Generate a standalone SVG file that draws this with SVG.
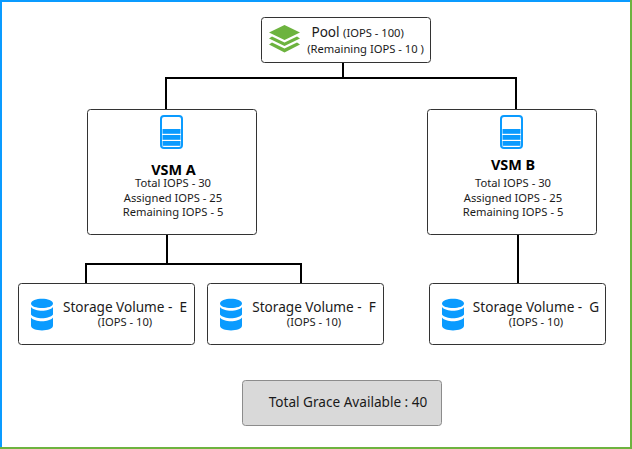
<svg xmlns="http://www.w3.org/2000/svg" width="632" height="449" viewBox="0 0 632 449">
<style>
text{font-family:"Noto Sans","Open Sans","Liberation Sans",sans-serif;fill:#1a1a1a;text-anchor:middle}
.box{fill:#fff;stroke:#333;stroke-width:1}
.grace{fill:#d9d9d9;stroke:#8c8c8c;stroke-width:1}
.c{fill:none;stroke:#000;stroke-width:2}
.s{font-size:11.2px}
.m{font-size:13.6px}
.b{font-size:14.4px;font-weight:700;fill:#000}
.blue{fill:#0a9bff}
.green{fill:#6db33f}
</style>
<defs>
<g id="db"><path class="blue" d="M0 5C0 -1.500 22 -1.500 22 5C22 11 0 11 0 5Z"/><path class="blue" d="M0 8.500C4 13.500 18 13.500 22 8.500V16C18 21 4 21 0 16Z"/><path class="blue" d="M0 19C4 24 18 24 22 19V27C22 33.500 0 33.500 0 27Z"/></g>
<g id="vsm"><rect x="1" y="1" width="21" height="32" rx="3" fill="#fff" stroke="#0a9bff" stroke-width="2"/><rect class="blue" x="2.500" y="14" width="18" height="4.800"/><rect class="blue" x="2.500" y="20" width="18" height="4.800"/><rect class="blue" x="2.500" y="26" width="18" height="4.800"/></g>
</defs>
<rect width="632" height="2" class="blue"/><rect width="2" height="449" class="blue"/>
<rect x="630" width="2" height="449" class="green"/><rect y="447" width="632" height="2" class="green"/>
<g id="connectors">
<path class="c" d="M343 62V78M166 109V78H516V109"/>
<path class="c" d="M167 234V264M86 283V264H301V283"/>
<path class="c" d="M518 234V283"/>
</g>
<g id="pool">
<rect class="box" x="261.500" y="17.500" width="169" height="45" rx="3"/>
<path class="green" d="M284.500 25L300 32.500L284.500 40L269 32.500Z"/>
<path class="green" d="M272 36.500L284.500 42.500L297 36.500L300 38.500L284.500 46L269 38.500Z"/>
<path class="green" d="M272 42.500L284.500 48.500L297 42.500L300 44.500L284.500 52.500L269 44.500Z"/>
<text x="325.500" y="37" class="m">Pool</text><text x="373.500" y="37" class="s">(IOPS - 100)</text>
<text x="365.500" y="53" class="s">(Remaining IOPS - 10 )</text>
</g>
<g id="vsm-a">
<rect class="box" x="87.500" y="109.500" width="169" height="125" rx="3"/>
<use href="#vsm" x="160" y="115"/>
<text x="173.500" y="175" class="b">VSM A</text>
<text x="173" y="187" class="s">Total IOPS - 30</text>
<text x="173" y="202" class="s">Assigned IOPS - 25</text>
<text x="173" y="216" class="s">Remaining IOPS - 5</text>
</g>
<g id="vsm-b">
<rect class="box" x="427.500" y="109.500" width="169" height="125" rx="3"/>
<use href="#vsm" x="500" y="115"/>
<text x="513" y="170" class="b">VSM B</text>
<text x="513" y="187" class="s">Total IOPS - 30</text>
<text x="513" y="202" class="s">Assigned IOPS - 25</text>
<text x="513" y="216" class="s">Remaining IOPS - 5</text>
</g>
<g id="volume-e">
<rect class="box" x="18.500" y="283.500" width="176" height="61" rx="3"/>
<use href="#db" x="31" y="298.500"/>
<text x="125" y="312" class="m">Storage Volume - &#160;E</text>
<text x="125" y="326" class="s">(IOPS - 10)</text>
</g>
<g id="volume-f">
<rect class="box" x="207.500" y="283.500" width="176" height="61" rx="3"/>
<use href="#db" x="220" y="298.500"/>
<text x="314" y="312" class="m">Storage Volume - &#160;F</text>
<text x="314" y="326" class="s">(IOPS - 10)</text>
</g>
<g id="volume-g">
<rect class="box" x="429.500" y="283.500" width="176" height="61" rx="3"/>
<use href="#db" x="442" y="298.500"/>
<text x="536" y="312" class="m">Storage Volume - &#160;G</text>
<text x="536" y="326" class="s">(IOPS - 10)</text>
</g>
<g id="total-grace">
<rect class="grace" x="242.500" y="380.500" width="199" height="45" rx="3"/>
<text x="348" y="407" class="m">Total Grace Available : 40</text>
</g>
</svg>
